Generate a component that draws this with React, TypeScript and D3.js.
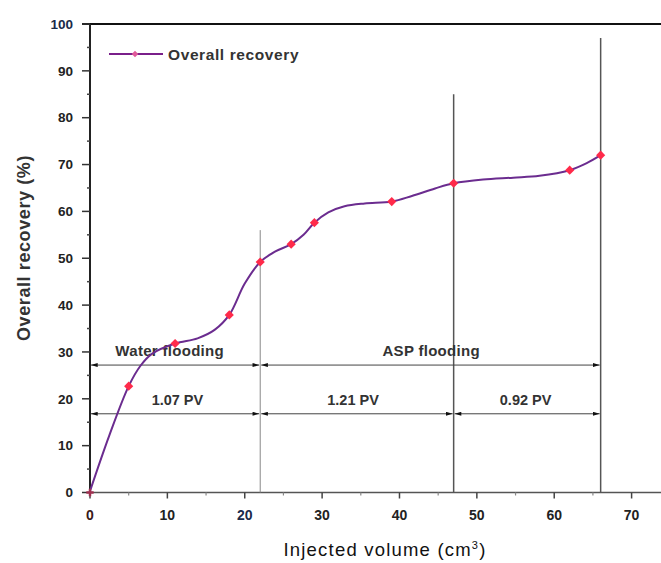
import React from "react";
import * as d3 from "d3";

// measured points (markers)
const injected = [0, 5, 11, 18, 22, 26, 29, 39, 47, 62, 66];
const recovery = [0.3, 22.7, 31.8, 37.9, 49.2, 53.0, 57.6, 62.1, 66.0, 68.8, 72.0];
// smooth curve trace
const curveX = [0, 2.5, 5, 6.5, 8, 11, 13.9, 16.1, 18, 20, 22, 23.9, 26, 27.6, 29, 30.8, 32.9, 35.5, 39, 41.6, 44.6, 47, 50.8, 54.7, 58.1, 62, 64.2, 66];
const curveY = [0.3, 12.2, 22.7, 27.0, 29.6, 31.8, 32.9, 34.7, 37.9, 44.6, 49.2, 51.4, 53.0, 55.0, 57.6, 59.8, 61.1, 61.7, 62.1, 63.3, 64.9, 66.0, 66.8, 67.2, 67.6, 68.8, 70.3, 72.0];
const xTicks = [0, 10, 20, 30, 40, 50, 60, 70];
const yTicks = [0, 10, 20, 30, 40, 50, 60, 70, 80, 90, 100];
const phaseBounds = [0, 22, 47, 66];
const phaseLineTops = [56, 85, 97];
const stageLabels = ["Water flooding", "ASP flooding"];
const stageRanges = [[0, 22], [22, 66]];
const stageLabelX = [10.3, 44.1];
const pvLabels = ["1.07 PV", "1.21 PV", "0.92 PV"];
const pvLabelX = [11.3, 34.0, 56.3];

const W = 661, H = 563;
const L = 90, R = 661, T = 24, B = 492.5;

export default function App() {
  const x = d3.scaleLinear().domain([0, 73.8]).range([L, R]);
  const y = d3.scaleLinear().domain([0, 100]).range([B, T]);
  const pts = injected.map((v, i) => [v, recovery[i]] as [number, number]);
  const trace = curveX.map((v, i) => [v, curveY[i]] as [number, number]);
  const line = d3.line<[number, number]>().x(d => x(d[0])).y(d => y(d[1])).curve(d3.curveCatmullRom.alpha(0.5));
  const stageY = 27.2, pvY = 16.8;
  const font = "'Liberation Sans', Arial, sans-serif";
  const markerPath = d3.symbol().type(d3.symbolSquare).size(42)() || "";
  const arrow = (x1: number, x2: number, yy: number, key: string) => (
    <line key={key} x1={x(x1) + 1} x2={x(x2) - 1} y1={y(yy)} y2={y(yy)} stroke="#444" strokeWidth={1}
      markerStart="url(#arr)" markerEnd="url(#arr)" />
  );
  return (
    <svg width={W} height={H} style={{ position: "absolute", left: 0, top: 0, background: "#fff" }}>
      <defs>
        <marker id="arr" viewBox="0 0 10 6" refX="10" refY="3" markerWidth="9" markerHeight="4" orient="auto-start-reverse" markerUnits="userSpaceOnUse">
          <path d="M0,0 L10,3 L0,6 Z" fill="#111" />
        </marker>
      </defs>
      {/* axes frame */}
      <line x1={L - 8} x2={R} y1={T} y2={T} stroke="#111" strokeWidth={2} />
      <line x1={L} x2={L} y1={T} y2={B} stroke="#222" strokeWidth={2} />
      <line x1={L} x2={R} y1={B} y2={B} stroke="#555" strokeWidth={1.5} />
      {/* y ticks */}
      {yTicks.map(t => (
        <g key={"y" + t}>
          <line x1={L - 8} x2={L} y1={y(t)} y2={y(t)} stroke="#333" strokeWidth={1.5} />
          <text x={L - 17} y={y(t)} dy="0.35em" textAnchor="end" fontFamily={font} fontWeight="bold" fontSize={13.5} fill={t === 100 ? "#1a2a4a" : "#222"}>{t}</text>
        </g>
      ))}
      {yTicks.slice(0, -1).map(t => (
        <line key={"ym" + t} x1={L - 3} x2={L} y1={y(t + 5)} y2={y(t + 5)} stroke="#444" strokeWidth={1.5} />
      ))}
      {/* x ticks */}
      {xTicks.map(t => (
        <g key={"x" + t}>
          <line x1={x(t)} x2={x(t)} y1={B} y2={B + 6} stroke="#444" strokeWidth={1.5} />
          <text x={x(t)} y={B + 27} textAnchor="middle" fontFamily={font} fontWeight="bold" fontSize={14} fill={t === 20 ? "#1a2a4a" : t === 0 ? "#3a1a1a" : "#222"}>{t}</text>
        </g>
      ))}
      {xTicks.map(t => (
        <line key={"xm" + t} x1={x(t + 5)} x2={x(t + 5)} y1={B} y2={B + 3} stroke="#888" strokeWidth={1.2} />
      ))}
      {/* phase lines */}
      {phaseBounds.slice(1).map((b, i) => (
        <line key={"pb" + b} x1={x(b)} x2={x(b)} y1={y(phaseLineTops[i])} y2={B} stroke={i === 0 ? "#888" : "#555"} strokeWidth={i === 0 ? 1 : 1.5} />
      ))}
      {/* arrows */}
      {stageRanges.map((r, i) => arrow(r[0], r[1], stageY, "s" + i))}
      {phaseBounds.slice(1).map((b, i) => arrow(phaseBounds[i], b, pvY, "p" + i))}
      {stageLabels.map((s, i) => (
        <text key={s} x={x(stageLabelX[i])} y={y(stageY) - 9} textAnchor="middle" fontFamily={font} fontWeight="bold" fontSize={15} letterSpacing={0.3} fill="#333">{s}</text>
      ))}
      {pvLabels.map((s, i) => (
        <text key={s} x={x(pvLabelX[i])} y={y(pvY) - 9} textAnchor="middle" fontFamily={font} fontWeight="bold" fontSize={14.5} fill="#333">{s}</text>
      ))}
      {/* curve */}
      <path d={line(trace) || ""} fill="none" stroke="#6b2c8f" strokeWidth={2} />
      {pts.map((p, i) => (
        i === 0 ? (
          <path key={"m" + i} d={d3.symbol().type(d3.symbolCross).size(30)() || ""} transform={`translate(${x(p[0])},${y(0)})`} fill="#a03050" />
        ) : (
          <path key={"m" + i} d={markerPath} transform={`translate(${x(p[0])},${y(p[1])}) rotate(45)`} fill="#ff2a4a" />
        )
      ))}
      {/* legend */}
      <line x1={109} x2={163} y1={54} y2={54} stroke="#7a1f8a" strokeWidth={2} />
      <path d={d3.symbol().type(d3.symbolSquare).size(22)() || ""} transform="translate(135,54) rotate(45)" fill="#e05a9a" />
      <text x={168} y={60} fontFamily={font} fontWeight="bold" fontSize={15.5} letterSpacing={0.6} fill="#333">Overall recovery</text>
      {/* axis titles */}
      <text transform={`translate(30,248) rotate(-90)`} textAnchor="middle" fontFamily={font} fontWeight="bold" fontSize={18} letterSpacing={0.6} fill="#333">Overall recovery (%)</text>
      <text x={385} y={556} textAnchor="middle" fontFamily={font} fontSize={18.5} letterSpacing={1.2} fill="#111">Injected volume (cm<tspan dy={-7} fontSize={11}>3</tspan><tspan dy={7}>)</tspan></text>
    </svg>
  );
}
